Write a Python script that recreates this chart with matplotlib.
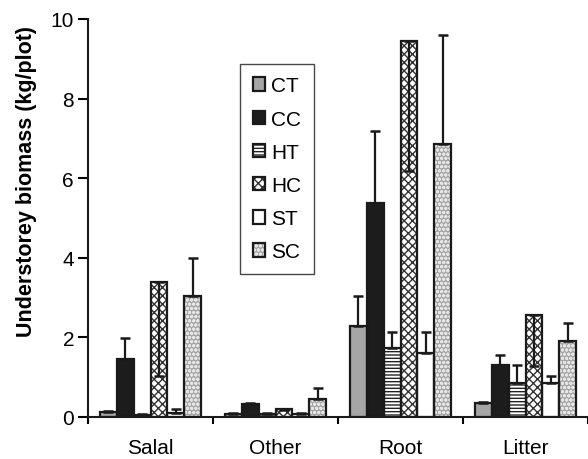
import numpy as np
import matplotlib.pyplot as plt
from matplotlib.patches import Patch

plt.rcParams['font.family'] = ['Liberation Sans', 'DejaVu Sans']
plt.rcParams['hatch.linewidth'] = 1.0

# biomass components and treatments
categories = ['Salal', 'Other', 'Root', 'Litter']
treatments = ['CT', 'CC', 'HT', 'HC', 'ST', 'SC']

# mean biomass (kg/plot), one list per treatment in category order
means = {
    'CT': [0.12, 0.08, 2.28, 0.35],
    'CC': [1.45, 0.32, 5.38, 1.31],
    'HT': [0.05, 0.08, 1.73, 0.85],
    'HC': [3.40, 0.20, 9.45, 2.56],
    'ST': [0.10, 0.08, 1.60, 0.86],
    'SC': [3.05, 0.45, 6.86, 1.90],
}
# standard errors; HC is shown below the bar top, the rest above
errors = {
    'CT': [0.02, 0.03, 0.76, 0.02],
    'CC': [0.53, 0.03, 1.81, 0.25],
    'HT': [0.02, 0.03, 0.40, 0.46],
    'HC': [2.37, 0.02, 3.27, 1.28],
    'ST': [0.10, 0.03, 0.54, 0.16],
    'SC': [0.95, 0.27, 2.74, 0.45],
}
err_down = ['HC']

styles = {
    'CT': dict(face='#a6a6a6', hatch=None, hcol='black'),
    'CC': dict(face='#1c1c1c', hatch=None, hcol='black'),
    'HT': dict(face='white', hatch='-----', hcol='#222222'),
    'HC': dict(face='white', hatch='xxxx', hcol='#333333'),
    'ST': dict(face='white', hatch=None, hcol='black'),
    'SC': dict(face='#a4a4a4', hatch='oooo', hcol='#e6e6e6'),
}

fig = plt.figure(figsize=(5.88, 4.60), dpi=100)
ax = fig.add_axes([88 / 588, 42 / 460, 500 / 588, 398 / 460])

x = np.arange(len(categories))
width = 0.135
start = (1 - width * len(treatments)) / 2

handles = []
for i, t in enumerate(treatments):
    pos = x + start + width * (i + 0.5)
    st = styles[t]
    # fill + hatch layer, then a separate outline layer so the hatch can differ in colour
    ax.bar(pos, means[t], width, color=st['face'], edgecolor=st['hcol'],
           hatch=st['hatch'], linewidth=0, zorder=2)
    ax.bar(pos, means[t], width, facecolor='none', edgecolor='#1a1a1a',
           linewidth=1.6, zorder=3)
    e = np.array(errors[t])
    if t in err_down:
        yerr = [e, np.zeros_like(e)]
    else:
        yerr = [np.zeros_like(e), e]
    ax.errorbar(pos, means[t], yerr=yerr, fmt='none', ecolor='#1a1a1a',
                elinewidth=1.6, capsize=3.5, capthick=1.8, zorder=4)
    fill = Patch(facecolor=st['face'], edgecolor=st['hcol'], hatch=st['hatch'], linewidth=0)
    edge = Patch(facecolor='none', edgecolor='#1a1a1a', linewidth=1.6)
    handles.append((fill, edge))

ax.set_xlim(0, 4)
ax.set_ylim(0, 10)
ax.set_yticks(np.arange(0, 11, 2))
ax.set_xticks(np.arange(0, 5))
ax.set_xticklabels([])
ax.set_xticks(x + 0.5, minor=True)
ax.set_xticklabels(categories, minor=True, fontsize=15)
ax.tick_params(axis='x', which='minor', length=0, pad=15)
ax.tick_params(axis='x', which='major', length=5, width=1.5, direction='out')
ax.tick_params(axis='y', length=7, width=1.5, direction='out', labelsize=15, pad=3)

for side in ['top', 'right']:
    ax.spines[side].set_visible(False)
for side in ['left', 'bottom']:
    ax.spines[side].set_linewidth(1.5)
    ax.spines[side].set_color('#1a1a1a')
    ax.spines[side].set_zorder(5)

ax.set_ylabel('Understorey biomass (kg/plot)', fontsize=15.5, fontweight='bold')
ax.yaxis.set_label_coords(-0.102, 0.595)

leg = ax.legend(handles, treatments, loc='upper left', bbox_to_anchor=(0.304, 0.887),
                fontsize=15, frameon=True, fancybox=False, edgecolor='#1a1a1a',
                handlelength=0.6, handleheight=0.62, handletextpad=0.3,
                labelspacing=0.68, borderpad=0.6, borderaxespad=0)
leg.get_frame().set_linewidth(1.0)

fig.savefig('out.png', dpi=100)
